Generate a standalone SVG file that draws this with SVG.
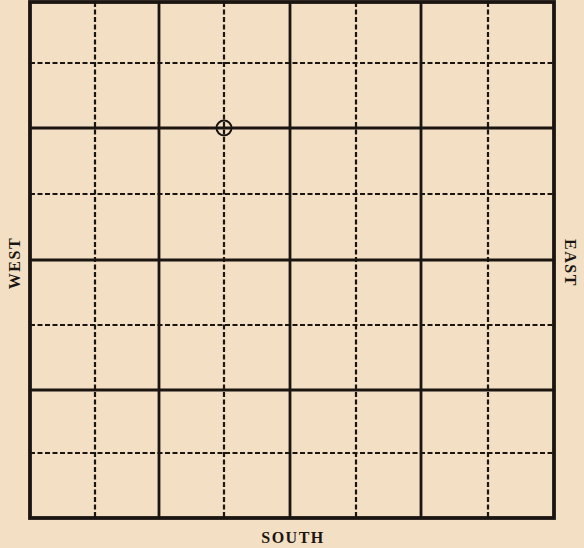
<svg xmlns="http://www.w3.org/2000/svg" width="584" height="548" viewBox="0 0 584 548">
<style>
.s{stroke:#1b1512;stroke-width:2.8;fill:none}
.d{stroke:#1b1512;stroke-width:2.2;stroke-dasharray:5 2.5;fill:none}
.b{stroke:#1b1512;stroke-width:3.8;fill:none}
.t{font-family:"Liberation Serif",serif;font-weight:bold;font-size:16px;fill:#1b1512;letter-spacing:1.5px}
</style>
<rect width="584" height="548" fill="#f3dfc3"/>
<g id="grid">
<path class="d" d="M95 2V518M224 2V518M356 2V518M488 2V518"/>
<path class="d" d="M30 63H554M30 194H554M30 325H554M30 453H554"/>
<path class="s" d="M159 2V518M290 2V518M421 2V518"/>
<path class="s" d="M30 128H554M30 260H554M30 390H554"/>
<rect class="b" x="30" y="2" width="524" height="516"/>
</g>
<g id="point">
<circle cx="224" cy="128" r="7.5" fill="none" stroke="#1b1512" stroke-width="2"/>
</g>
<g id="labels">
<text class="t" transform="translate(20,263) rotate(-90)" text-anchor="middle">WEST</text>
<text class="t" transform="translate(565,263) rotate(90)" text-anchor="middle">EAST</text>
<text class="t" x="293" y="543" text-anchor="middle">SOUTH</text>
</g>
</svg>
